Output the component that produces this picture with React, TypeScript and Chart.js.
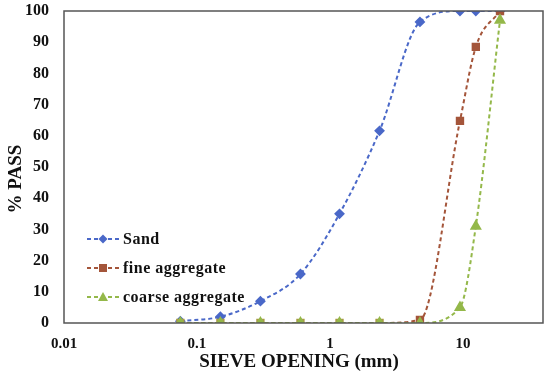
import React, { useEffect, useRef } from "react";
import { Chart, registerables } from "chart.js";

Chart.register(...registerables);

const sieveSizes = [0.075, 0.15, 0.3, 0.6, 1.18, 2.36, 4.75, 9.5, 12.5, 19];
const sandPass = [0.6, 2, 7, 15.7, 35, 61.6, 96.5, 100, 100, 100];
const finePass = [0, 0, 0, 0, 0, 0, 1, 64.8, 88.5, 100];
const coarsePass = [0, 0, 0, 0, 0, 0, 0, 5, 31, 97];
const xTickValues = [0.01, 0.1, 1, 10];
const seriesNames = ["Sand", "fine aggregate", "coarse aggregate"];

const SAND = "#4A68C8";
const FINE = "#A4553A";
const FINE_ZERO = "#A89A45";
const COARSE = "#94B84A";
const SERIF = "'Liberation Serif', 'DejaVu Serif', serif";

const overlay = {
  id: "overlay",
  afterDraw(chart: any) {
    const ctx = chart.ctx;
    const a = chart.chartArea;
    ctx.save();
    ctx.strokeStyle = "#555555";
    ctx.lineWidth = 1.5;
    ctx.strokeRect(a.left, a.top, a.right - a.left, a.bottom - a.top);
    ctx.fillStyle = "#111111";
    ctx.font = `bold 19px ${SERIF}`;
    ctx.textAlign = "center";
    ctx.textBaseline = "middle";
    ctx.fillText("SIEVE OPENING (mm)", 299, 362);
    ctx.save();
    ctx.translate(16, 179);
    ctx.rotate(-Math.PI / 2);
    ctx.fillText("% PASS", 0, 0);
    ctx.restore();
    const ys = [239, 268, 297];
    const cols = [SAND, FINE, COARSE];
    ctx.font = `bold 16px ${SERIF}`;
    ctx.textAlign = "left";
    for (let i = 0; i < 3; i++) {
      const y = ys[i];
      ctx.strokeStyle = cols[i];
      ctx.lineWidth = 2;
      ctx.setLineDash([4, 3]);
      ctx.beginPath();
      ctx.moveTo(87, y);
      ctx.lineTo(120, y);
      ctx.stroke();
      ctx.setLineDash([]);
      ctx.fillStyle = cols[i];
      ctx.beginPath();
      if (i === 0) {
        ctx.moveTo(103, y - 4.5); ctx.lineTo(107.5, y); ctx.lineTo(103, y + 4.5); ctx.lineTo(98.5, y);
      } else if (i === 1) {
        ctx.rect(99, y - 4, 8, 8);
      } else {
        ctx.moveTo(103, y - 5); ctx.lineTo(108, y + 4); ctx.lineTo(98, y + 4);
      }
      ctx.closePath();
      ctx.fill();
      ctx.fillStyle = "#111111";
      (ctx as any).letterSpacing = "0.5px";
      ctx.fillText(seriesNames[i], 123, y + 1);
      (ctx as any).letterSpacing = "0px";
    }
    ctx.restore();
  },
};

export default function App() {
  const ref = useRef<HTMLCanvasElement | null>(null);
  useEffect(() => {
    document.body.style.margin = "0";
    const canvas = ref.current!;
    const mk = (arr: number[]) => sieveSizes.map((x, i) => ({ x, y: arr[i] }));
    const chart = new Chart(canvas, {
      type: "line",
      data: {
        datasets: [
          {
            label: seriesNames[2],
            data: mk(coarsePass),
            borderColor: COARSE,
            backgroundColor: COARSE,
            pointBackgroundColor: COARSE,
            pointBorderColor: COARSE,
            pointStyle: "triangle",
            pointRadius: 5,
            borderWidth: 2,
            borderDash: [4, 3],
            cubicInterpolationMode: "monotone",
          },
          {
            label: seriesNames[1],
            data: mk(finePass),
            borderColor: FINE,
            backgroundColor: FINE,
            pointBackgroundColor: finePass.map((v) => (v === 0 ? FINE_ZERO : FINE)),
            pointBorderColor: finePass.map((v) => (v === 0 ? FINE_ZERO : FINE)),
            pointStyle: "rect",
            pointRadius: 4.5,
            borderWidth: 2,
            borderDash: [4, 3],
            cubicInterpolationMode: "monotone",
          },
          {
            label: seriesNames[0],
            data: mk(sandPass),
            borderColor: SAND,
            backgroundColor: SAND,
            pointBackgroundColor: SAND,
            pointBorderColor: SAND,
            pointStyle: "rectRot",
            pointRadius: 4,
            borderWidth: 2,
            borderDash: [4, 3],
            cubicInterpolationMode: "monotone",
          },
        ],
      },
      options: {
        animation: false,
        responsive: false,
        maintainAspectRatio: false,
        layout: { padding: { top: 11, right: 7, left: 0, bottom: 0 } },
        plugins: { legend: { display: false }, tooltip: { enabled: false } },
        scales: {
          x: {
            type: "logarithmic",
            min: 0.01,
            max: 40,
            afterBuildTicks: (s: any) => {
              s.ticks = xTickValues.map((v) => ({ value: v }));
            },
            afterFit: (s: any) => {
              s.height = 52;
              s.paddingLeft = 0;
              s.paddingRight = 0;
              s.paddingTop = 0;
              s.paddingBottom = 0;
            },
            grid: { display: false, drawTicks: false },
            border: { display: false },
            ticks: {
              autoSkip: false,
              maxRotation: 0,
              padding: 12,
              color: "#111111",
              font: { family: SERIF, size: 15, weight: "bold" },
              callback: (v: any) => String(v),
            },
          },
          y: {
            type: "linear",
            min: 0,
            max: 100,
            afterFit: (s: any) => {
              s.width = 64;
              s.paddingLeft = 0;
              s.paddingRight = 0;
              s.paddingTop = 0;
              s.paddingBottom = 0;
            },
            grid: { display: false, drawTicks: false },
            border: { display: false },
            ticks: {
              stepSize: 10,
              padding: 15,
              color: "#111111",
              font: { family: SERIF, size: 16, weight: "bold" },
            },
          },
        },
      },
      plugins: [overlay],
    } as any);
    return () => chart.destroy();
  }, []);
  return (
    <div style={{ position: "absolute", left: 0, top: 0, width: 550, height: 375, background: "#fff" }}>
      <canvas ref={ref} width={550} height={375} style={{ display: "block", width: 550, height: 375 }} />
    </div>
  );
}
